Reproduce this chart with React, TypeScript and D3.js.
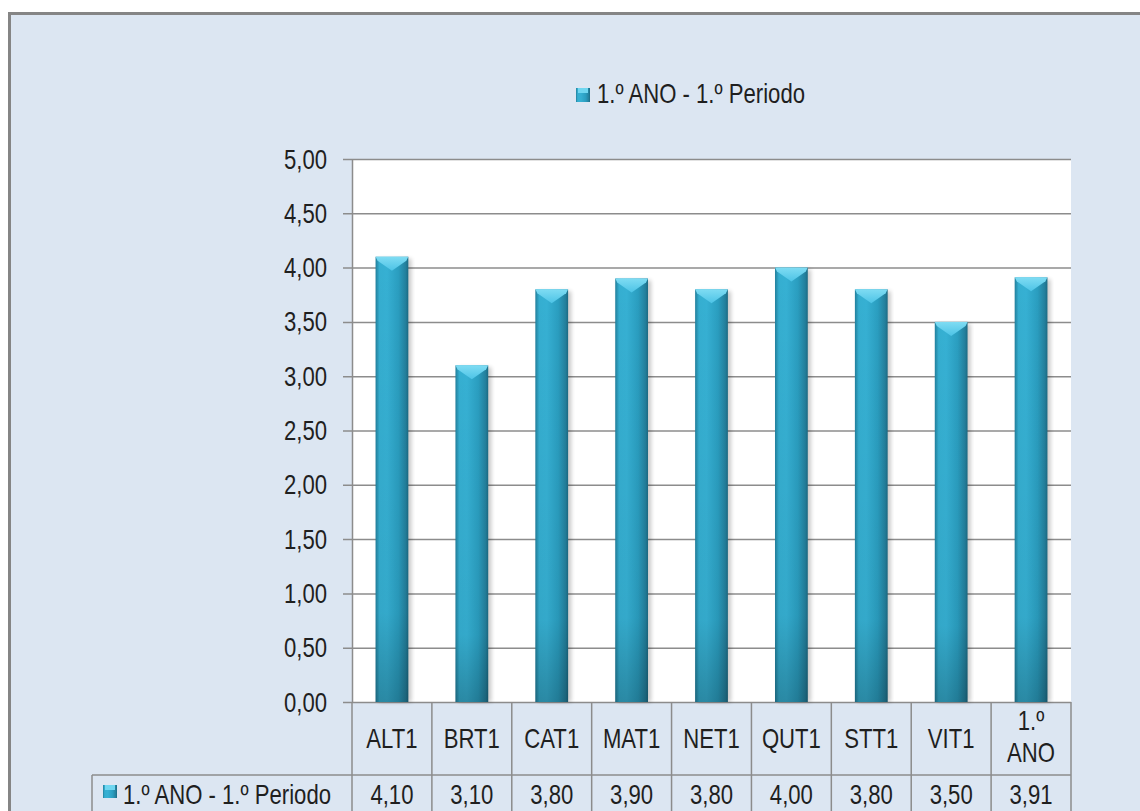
import * as d3 from 'd3';
import { useEffect, useRef } from 'react';

const categories = ['ALT1', 'BRT1', 'CAT1', 'MAT1', 'NET1', 'QUT1', 'STT1', 'VIT1', '1.º\nANO'];
const values = [4.1, 3.1, 3.8, 3.9, 3.8, 4.0, 3.8, 3.5, 3.91];
const seriesName = '1.º ANO - 1.º Periodo';
const yTicks = [0, 0.5, 1, 1.5, 2, 2.5, 3, 3.5, 4, 4.5, 5];

// narrow look: Liberation Sans squeezed horizontally
const FONT = '"Liberation Sans", Arial, sans-serif';
const FS = 27;
const SQ = 0.82;
const fmt = (v: number) => d3.format('.2f')(v).replace('.', ',');

export default function App() {
    const svgRef = useRef<SVGSVGElement>(null);

    useEffect(() => {
        if (!svgRef.current) return;
        const W = 1140,
            H = 811;
        const plot = { left: 352, right: 1071, top: 159, bottom: 702 };
        const headerBottom = 775;
        const tableLeft = 92;
        const grid = '#8c8c8c';
        const ink = '#1f1f1f';

        const svg = d3.select(svgRef.current);
        svg.selectAll('*').remove();
        svg.attr('width', W).attr('height', H);

        const label = (
            parent: d3.Selection<any, any, any, any>,
            x: number,
            y: number,
            txt: string,
            anchor = 'start'
        ) =>
            parent
                .append('text')
                .attr('transform', `translate(${x},${y}) scale(${SQ},1)`)
                .attr('text-anchor', anchor)
                .attr('font-family', FONT)
                .attr('font-size', FS)
                .attr('fill', ink)
                .text(txt);

        const defs = svg.append('defs');
        const grad = defs.append('linearGradient').attr('id', 'barGrad').attr('x1', '0').attr('x2', '1').attr('y1', '0').attr('y2', '0');
        [
            ['0%', '#217f9c'],
            ['12%', '#35aed0'],
            ['35%', '#36b0d3'],
            ['70%', '#2a9dbf'],
            ['92%', '#237f9c'],
            ['100%', '#1b6a83'],
        ].forEach(([o, c]) => grad.append('stop').attr('offset', o).attr('stop-color', c));
        const shade = defs.append('linearGradient').attr('id', 'barShade').attr('x1', '0').attr('x2', '0').attr('y1', '0').attr('y2', '1');
        [
            ['0%', 0],
            ['80%', 0.04],
            ['100%', 0.22],
        ].forEach(([o, a]) => shade.append('stop').attr('offset', o as string).attr('stop-color', '#000').attr('stop-opacity', a as number));
        const cap = defs.append('linearGradient').attr('id', 'capGrad').attr('x1', '0').attr('x2', '0').attr('y1', '0').attr('y2', '1');
        cap.append('stop').attr('offset', '0%').attr('stop-color', '#7fdcf3');
        cap.append('stop').attr('offset', '100%').attr('stop-color', '#4cc3e6');
        defs.append('filter').attr('id', 'blur').append('feGaussianBlur').attr('stdDeviation', 2);

        // background frame
        svg.append('rect').attr('width', W).attr('height', H).attr('fill', '#ffffff');
        svg.append('rect')
            .attr('x', 9.5)
            .attr('y', 13.5)
            .attr('width', W + 20)
            .attr('height', H + 20)
            .attr('fill', '#dce6f2')
            .attr('stroke', '#858585')
            .attr('stroke-width', 3);

        // legend
        const legend = svg.append('g').attr('transform', 'translate(576,88)');
        legend.append('rect').attr('width', 14).attr('height', 14).attr('fill', 'url(#barGrad)');
        legend.append('rect').attr('x', 2).attr('width', 10).attr('height', 5).attr('fill', '#6fd6f0');
        label(legend, 21, 15, seriesName);

        const x = d3.scaleBand().domain(categories).range([plot.left, plot.right]).paddingInner(0.59).paddingOuter(0.295);
        const y = d3.scaleLinear().domain([0, 5]).range([plot.bottom, plot.top]);

        svg.append('rect')
            .attr('x', plot.left)
            .attr('y', plot.top)
            .attr('width', plot.right - plot.left)
            .attr('height', plot.bottom - plot.top)
            .attr('fill', '#ffffff');

        // y axis
        const yAxis = svg
            .append('g')
            .attr('transform', `translate(${plot.left},0)`)
            .call(
                d3
                    .axisLeft(y)
                    .tickValues(yTicks)
                    .tickSizeInner(-(plot.right - plot.left))
                    .tickSizeOuter(0)
                    .tickFormat(() => '')
            );
        yAxis.select('.domain').attr('stroke', grid).attr('stroke-width', 1.5);
        yAxis.selectAll('.tick line').attr('stroke', grid).attr('stroke-width', 1.5).attr('x1', -9);
        yAxis.selectAll('.tick text').remove();
        yTicks.forEach((t) => label(svg, plot.left - 25, y(t) + 9.5, fmt(t), 'end'));

        // bars
        const bars = svg.append('g').selectAll('g').data(values).join('g');
        const bx = (_: number, i: number) => x(categories[i]) as number;
        const bw = x.bandwidth();
        bars.append('rect')
            .attr('x', (d, i) => bx(d, i) + 3)
            .attr('y', (d) => y(d) + 2)
            .attr('width', bw)
            .attr('height', (d) => plot.bottom - y(d) - 2)
            .attr('fill', '#000')
            .attr('opacity', 0.22)
            .attr('filter', 'url(#blur)');
        bars.append('rect')
            .attr('x', bx)
            .attr('y', (d) => y(d))
            .attr('width', bw)
            .attr('height', (d) => plot.bottom - y(d))
            .attr('fill', 'url(#barGrad)');
        bars.append('rect')
            .attr('x', bx)
            .attr('y', (d) => y(d))
            .attr('width', bw)
            .attr('height', (d) => plot.bottom - y(d))
            .attr('fill', 'url(#barShade)');
        bars.append('path')
            .attr('d', (d, i) => {
                const x0 = bx(d, i),
                    x1 = x0 + bw,
                    t = y(d);
                return `M${x0},${t}L${x1},${t}L${x1 - 2},${t + 4}L${(x0 + x1) / 2},${t + 14}L${x0 + 2},${t + 4}Z`;
            })
            .attr('fill', 'url(#capGrad)');

        // data table
        const table = svg.append('g');
        const edges = categories.map((c) => (x(c) as number) - (x.step() * x.paddingInner()) / 2);
        edges.push(plot.right);
        const line = (x1: number, y1: number, x2: number, y2: number) =>
            table.append('line').attr('x1', x1).attr('y1', y1).attr('x2', x2).attr('y2', y2).attr('stroke', grid).attr('stroke-width', 1.5);
        edges.forEach((e) => line(e, plot.bottom, e, H + 5));
        line(tableLeft, headerBottom, plot.right, headerBottom);
        line(tableLeft, headerBottom, tableLeft, H + 5);

        categories.forEach((c, i) => {
            const cx = (x(c) as number) + bw / 2;
            const parts = c.split('\n');
            if (parts.length === 1) {
                label(table, cx, 748, c, 'middle');
            } else {
                parts.forEach((p, j) => label(table, cx, 730 + j * 32, p, 'middle'));
            }
            label(table, cx, 804, fmt(values[i]), 'middle');
        });

        const key = table.append('g').attr('transform', 'translate(103,785)');
        key.append('rect').attr('width', 14).attr('height', 13).attr('fill', 'url(#barGrad)');
        key.append('rect').attr('x', 2).attr('width', 10).attr('height', 5).attr('fill', '#6fd6f0');
        label(table, 123, 804, seriesName);
    }, []);

    return (
        <div style={{ position: 'absolute', left: 0, top: 0, width: 1140, height: 811, overflow: 'hidden' }}>
            <svg ref={svgRef} width={1140} height={811} style={{ display: 'block' }} />
        </div>
    );
}
